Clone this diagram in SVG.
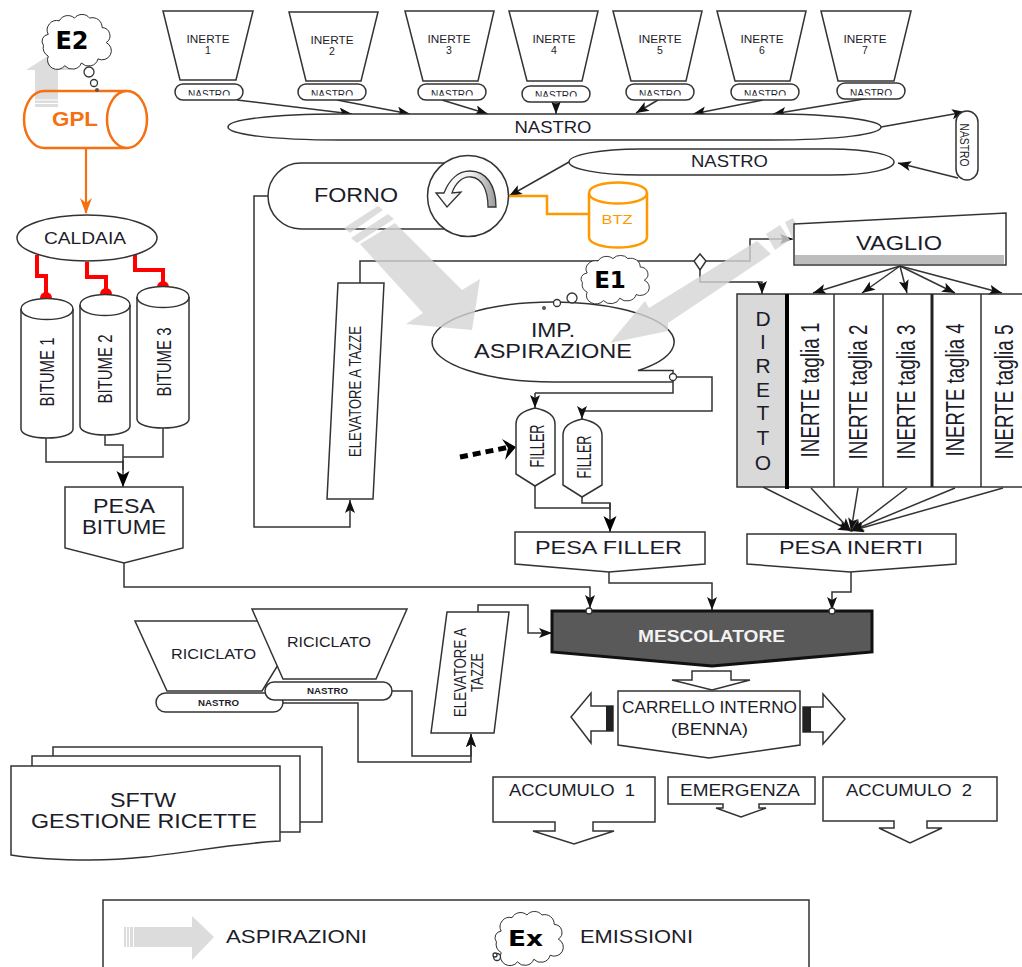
<svg xmlns="http://www.w3.org/2000/svg" width="1022" height="967" viewBox="0 0 1022 967">
<style>
text{font-family:"Liberation Sans",Arial,sans-serif;fill:#1c1c2a;text-anchor:middle}
.s{fill:#fff;stroke:#333;stroke-width:1.5}
.n{fill:none;stroke:#333;stroke-width:1.5}
.c{fill:none;stroke:#333;stroke-width:1.5}
.a{marker-end:url(#ah)}
.b{marker-end:url(#ab)}
.r{fill:none;stroke:#f00;stroke-width:4}
.g{fill:#d4d4d4;fill-opacity:.8;stroke:none}
.o{fill:#fff;stroke:#f57010;stroke-width:2.5}
.y{fill:#fff;stroke:#f90;stroke-width:2.5}
.bub{fill:#fff;stroke:#333;stroke-width:1.3}
.cl{fill:#fff;stroke:#222;stroke-width:1.4;vector-effect:non-scaling-stroke}
.em{font-family:"DejaVu Sans",sans-serif;font-weight:bold;fill:#000}
.t10{font-size:10.5px}
.np{font-size:10.5px;clip-path:url(#nclip)}
.np4{font-size:10.5px;clip-path:url(#nclip4)}
</style>
<defs>
<marker id="ah" markerUnits="userSpaceOnUse" markerWidth="14" markerHeight="12" refX="13" refY="5" orient="auto"><path d="M0,0 L13,5 L0,10 L3,5 Z" fill="#111"/></marker>
<marker id="ab" markerUnits="userSpaceOnUse" markerWidth="17" markerHeight="14" refX="16" refY="6.5" orient="auto"><path d="M0,0 L16,6.5 L0,13 L4,6.5 Z" fill="#000"/></marker>
<clipPath id="nclip"><rect x="0" y="0" width="1022" height="95.5"/></clipPath>
<clipPath id="nclip4"><rect x="0" y="0" width="1022" height="96.5"/></clipPath>
<linearGradient id="gr" x1="0" x2="1" y1="0" y2="0"><stop offset="0" stop-color="#fff"/><stop offset=".6" stop-color="#eee"/><stop offset="1" stop-color="#999"/></linearGradient>
<path id="cloud" d="M12 30A14 14 0 0 1 28 10A14 14 0 0 1 50 6A14 14 0 0 1 72 6A14 14 0 0 1 90 20A12 12 0 0 1 96 42A13 13 0 0 1 84 66A14 14 0 0 1 60 72A14 14 0 0 1 36 76A14 14 0 0 1 12 62A14 14 0 0 1 5 46A10 10 0 0 1 12 30Z"/>
</defs>
<rect width="1022" height="967" fill="#fff"/>

<g id="connectors">
<path class="a c" d="M237 100L352 114"/>
<path class="a c" d="M337 100L410 114"/>
<path class="a c" d="M442 100L488 114"/>
<path class="a c" d="M556 101V114"/>
<path class="a c" d="M658 100L636 113"/>
<path class="a c" d="M763 100L693 114"/>
<path class="a c" d="M870 98L773 114"/>
<path class="a c" d="M881 127L965 112"/>
<path class="a c" d="M958 178L898 163"/>
<path class="a c" d="M569 162L509 196"/>
<path d="M506 196H547V214H589" fill="none" stroke="#f90" stroke-width="2.5"/>
<circle cx="506" cy="196" r="3" fill="#f90"/>
<path class="c" d="M360 283V261H694"/>
<path class="a c" d="M706 261H750V239H793"/>
<path class="a c" d="M700 270V282H762V294"/>
<path class="a c" d="M900 266L813 293"/>
<path class="a c" d="M900 266L862 293"/>
<path class="a c" d="M900 266L907 293"/>
<path class="a c" d="M900 266L955 293"/>
<path class="a c" d="M900 266L1002 293"/>
<path class="a c" d="M763 487L851 531" stroke-width="2.2"/>
<path class="a c" d="M811 488L851 531"/>
<path class="a c" d="M858 488L851 531"/>
<path class="a c" d="M907 488L851 531"/>
<path class="a c" d="M955 488L851 531"/>
<path class="a c" d="M1003 488L851 531"/>
<path class="a c" d="M851 572V592H832V610"/>
<path class="a c" d="M609 572V583H712V610"/>
<path class="a c" d="M124 563V587H590V608"/>
<path class="a c" d="M268 196H254V527H350V500"/>
<path class="a c" d="M535 393V408"/>
<path class="c" d="M677 377H712V411H582"/>
<path class="a c" d="M582 411V419"/>
<path class="c" d="M535 486V508H610"/>
<path class="c" d="M582 497V503H610V510"/>
<path class="b c" d="M610 503V532"/>
<path d="M460 457L510 447" fill="none" stroke="#000" stroke-width="5" stroke-dasharray="8 5"/>
<path d="M502 439L516 447L505 460L508 448Z" fill="#000"/>
<path class="c" d="M46 437V462H123"/>
<path class="c" d="M105 434V445H123V470"/>
<path class="c" d="M163 427V457H123"/>
<path class="b c" d="M123 460V487"/>
<path class="a c" d="M283 703H358V762H471V734"/>
<path class="a c" d="M392 691H412V756H471V734"/>
<path class="a c" d="M478 612V605H528V633H552"/>
<path d="M86 148V213" fill="none" stroke="#f57010" stroke-width="2.2"/>
<path d="M80 198L86 214L92 198L86 203Z" fill="#f57010"/>
<path class="r" d="M37 255V276H46V298"/>
<path class="r" d="M87 262V277H106V294"/>
<path class="r" d="M135 255V270H163V287"/>
<circle cx="46" cy="298" r="6" fill="#f00"/>
<circle cx="106" cy="294" r="6" fill="#f00"/>
<circle cx="163" cy="287" r="6" fill="#f00"/>
</g>

<g id="inerte1"><path class="s" d="M163 11H253L236 80H180Z"/><text class="t10" x="208" y="43" textLength="43" lengthAdjust="spacingAndGlyphs">INERTE</text><text class="t10" x="208" y="54">1</text></g>
<g id="inerte2"><path class="s" d="M289 12H378L361 81H306Z"/><text class="t10" x="332" y="44" textLength="43" lengthAdjust="spacingAndGlyphs">INERTE</text><text class="t10" x="332" y="55">2</text></g>
<g id="inerte3"><path class="s" d="M405 11H494L478 81H423Z"/><text class="t10" x="449" y="43" textLength="43" lengthAdjust="spacingAndGlyphs">INERTE</text><text class="t10" x="449" y="54">3</text></g>
<g id="inerte4"><path class="s" d="M509 11H598L582 81H527Z"/><text class="t10" x="554" y="43" textLength="43" lengthAdjust="spacingAndGlyphs">INERTE</text><text class="t10" x="554" y="54">4</text></g>
<g id="inerte5"><path class="s" d="M613 11H702L686 81H631Z"/><text class="t10" x="660" y="43" textLength="43" lengthAdjust="spacingAndGlyphs">INERTE</text><text class="t10" x="660" y="54">5</text></g>
<g id="inerte6"><path class="s" d="M717 11H806L790 81H735Z"/><text class="t10" x="762" y="43" textLength="43" lengthAdjust="spacingAndGlyphs">INERTE</text><text class="t10" x="762" y="54">6</text></g>
<g id="inerte7"><path class="s" d="M821 11H911L894 81H838Z"/><text class="t10" x="865" y="43" textLength="43" lengthAdjust="spacingAndGlyphs">INERTE</text><text class="t10" x="865" y="54">7</text></g>

<g id="nastro-pills">
<rect class="s" x="175" y="84" width="68" height="16" rx="8"/><text class="np" x="209" y="97.5" textLength="42" lengthAdjust="spacingAndGlyphs">NASTRO</text>
<rect class="s" x="298" y="84" width="68" height="16" rx="8"/><text class="np" x="332" y="97.5" textLength="42" lengthAdjust="spacingAndGlyphs">NASTRO</text>
<rect class="s" x="418" y="84" width="68" height="16" rx="8"/><text class="np" x="452" y="97.5" textLength="42" lengthAdjust="spacingAndGlyphs">NASTRO</text>
<rect class="s" x="522" y="86" width="68" height="16" rx="8"/><text class="np4" x="556" y="98.5" textLength="42" lengthAdjust="spacingAndGlyphs">NASTRO</text>
<rect class="s" x="626" y="84" width="68" height="16" rx="8"/><text class="np" x="660" y="97.5" textLength="42" lengthAdjust="spacingAndGlyphs">NASTRO</text>
<rect class="s" x="731" y="84" width="68" height="16" rx="8"/><text class="np" x="765" y="97.5" textLength="42" lengthAdjust="spacingAndGlyphs">NASTRO</text>
<rect class="s" x="837" y="83" width="68" height="16" rx="8"/><text class="np" x="871" y="96.5" textLength="42" lengthAdjust="spacingAndGlyphs">NASTRO</text>
</g>

<g id="nastro-main"><path class="s" d="M340 114H770C840 114 881 121 881 127C881 134 840 140 770 140H340C270 140 228 134 228 127C228 120 270 114 340 114Z"/><text x="553" y="133" font-size="16.5" textLength="77" lengthAdjust="spacingAndGlyphs">NASTRO</text></g>
<g id="nastro-side"><rect class="s" x="956" y="111" width="22" height="69" rx="11"/><text transform="translate(960 145) rotate(90)" font-size="12.5" textLength="43" lengthAdjust="spacingAndGlyphs">NASTRO</text></g>
<g id="nastro-return"><path class="s" d="M660 149H830C870 149 894 155 894 162C894 169 870 175 830 175H640C600 175 569 169 569 162C569 155 600 149 640 149Z"/><text x="729.5" y="167" font-size="17" textLength="77" lengthAdjust="spacingAndGlyphs">NASTRO</text></g>

<g id="forno">
<path class="s" d="M301 163H468A40 33 0 0 1 468 229H301A33 33 0 0 1 301 163Z"/>
<circle class="s" cx="468" cy="196" r="40.5"/>
<path d="M488 207H496C496 185 486 171 470 171C458 171 449 180 444 193L436 193L447 207L461 192L452 193C455 184 462 176 471 177C482 178 488 190 488 207Z" fill="url(#gr)" stroke="#333" stroke-width="1.3"/>
<text x="356" y="202" font-size="20" textLength="84" lengthAdjust="spacingAndGlyphs">FORNO</text>
</g>
<g id="btz"><path class="y" d="M589 193C589 179 647 179 647 193V237C647 251 589 251 589 237Z"/><path class="y" style="fill:none" d="M589 193C589 207 647 207 647 193"/><text x="617" y="224" font-size="12.5" style="fill:#f90" textLength="31" lengthAdjust="spacingAndGlyphs">BTZ</text></g>

<g id="aspirazione">
<ellipse cx="553" cy="342" rx="121" ry="40" fill="#fff"/>
<path class="n" d="M553 382A121 40 0 0 1 553 302A121 40 0 0 1 638 370.500H673V377M673 381V393H535M553 382H673"/>
<text x="553" y="337" font-size="19.5" textLength="44" lengthAdjust="spacingAndGlyphs">IMP.</text>
<text x="553" y="358" font-size="19.5" textLength="158" lengthAdjust="spacingAndGlyphs">ASPIRAZIONE</text>
</g>
<circle cx="673" cy="377" r="3.5" class="bub"/>

<g id="aspirazioni-arrows">
<path class="g" d="M344 228L378 206L383 210L350 233Z"/>
<path class="g" d="M351 238L388 214L394 219L357 243Z"/>
<path class="g" d="M360 244L395 223L462 290L480 279L472 330L406 324L423 313Z"/>
<path class="g" d="M610 343L645 301L649 308L757 241L771 254L668 323L668 331Z"/>
<path class="g" d="M766 234L780 225L790 240L775 250Z"/>
<path class="g" d="M785 222L793 218L803 235L793 240Z"/>
</g>

<g id="e1"><use href="#cloud" class="cl" transform="translate(579 255) scale(.68 .6)"/><circle class="bub" cx="572" cy="298" r="5"/><circle class="bub" cx="557" cy="303" r="3.5"/><circle cx="544" cy="308" r="2" fill="#555"/><text class="em" x="610" y="288" font-size="23">E1</text></g>

<g id="vaglio"><path class="s" d="M794 224L1006 213V265H794Z"/><rect x="795" y="255" width="209" height="9" fill="#bdbdbd"/><text x="899" y="250" font-size="20" textLength="86" lengthAdjust="spacingAndGlyphs">VAGLIO</text></g>
<g id="diamond"><path class="s" d="M700 254L706 261L700 270L694 261Z"/></g>

<g id="bins">
<rect x="737" y="294" width="50" height="193" fill="#d9d9d9"/>
<path class="n" d="M1022 294H737V487H1022"/>
<path d="M787 294V489" stroke="#000" stroke-width="4"/>
<path class="n" d="M834 294V487M883 294V487M981 294V487"/>
<path d="M932 294V487" stroke="#222" stroke-width="3"/>
<g font-size="21">
<text x="763" y="326">D</text><text x="763" y="349">I</text><text x="763" y="373">R</text><text x="763" y="397">E</text><text x="763" y="420">T</text><text x="763" y="445">T</text><text x="763" y="470">O</text>
</g>
<g font-size="25">
<text transform="translate(819 390) rotate(-90)" textLength="135" lengthAdjust="spacingAndGlyphs">INERTE taglia 1</text>
<text transform="translate(867 392) rotate(-90)" textLength="135" lengthAdjust="spacingAndGlyphs">INERTE taglia 2</text>
<text transform="translate(915 392) rotate(-90)" textLength="135" lengthAdjust="spacingAndGlyphs">INERTE taglia 3</text>
<text transform="translate(964 390) rotate(-90)" textLength="133" lengthAdjust="spacingAndGlyphs">INERTE taglia 4</text>
<text transform="translate(1013 392) rotate(-90)" textLength="135" lengthAdjust="spacingAndGlyphs">INERTE taglia 5</text>
</g>
</g>

<g id="pesa-inerti"><path class="s" d="M747 534H956V564L850 572L747 564Z"/><text x="851" y="554" font-size="19" textLength="144" lengthAdjust="spacingAndGlyphs">PESA INERTI</text></g>
<g id="pesa-filler"><path class="s" d="M515 532H705V564L609 572L515 564Z"/><text x="608.5" y="554" font-size="19" textLength="147" lengthAdjust="spacingAndGlyphs">PESA FILLER</text></g>

<g id="filler1"><path class="s" d="M516 424C516 414 526 410 535 408C545 410 555 414 555 424V474L535 486L516 474Z"/><text transform="translate(544 446) rotate(-90)" font-size="20" textLength="43" lengthAdjust="spacingAndGlyphs">FILLER</text></g>
<g id="filler2"><path class="s" d="M563 435C563 425 573 421 582 419C592 421 602 425 602 435V485L582 497L563 485Z"/><text transform="translate(591 457) rotate(-90)" font-size="20" textLength="43" lengthAdjust="spacingAndGlyphs">FILLER</text></g>

<g id="elevatore1"><path class="s" d="M338 283H384L373 499H327Z"/><text transform="translate(361 391.500) rotate(-90)" font-size="17" textLength="131" lengthAdjust="spacingAndGlyphs">ELEVATORE A TAZZE</text></g>

<g id="gpl-arrow"><path class="g" d="M48 56L71 70H58V107H35V70H26Z"/><path d="M35 100H58M35 103.500H58" stroke="#fff" stroke-width="1"/></g>
<g id="gpl"><path class="o" style="fill:none" d="M127 91H44A20 28.500 0 0 0 44 148H127"/><ellipse class="o" style="fill:#fff" cx="127" cy="119.500" rx="20" ry="28.500"/><text x="75" y="126" font-size="21" font-weight="bold" style="fill:#f57010" textLength="46" lengthAdjust="spacingAndGlyphs">GPL</text></g>
<g id="e2"><use href="#cloud" class="cl" transform="translate(40 14) scale(.69 .68)"/><circle class="bub" cx="89" cy="72" r="5"/><circle class="bub" cx="94" cy="83" r="3.500"/><circle cx="97" cy="90" r="2" fill="#555"/><text class="em" x="72" y="49" font-size="24">E2</text></g>
<g id="caldaia"><ellipse class="s" cx="87" cy="238" rx="70" ry="23"/><text x="85" y="244" font-size="16" textLength="82" lengthAdjust="spacingAndGlyphs">CALDAIA</text></g>

<g id="bitume1"><path class="s" d="M21 309C21 295 73 295 73 309V429C73 441 21 441 21 429Z"/><path class="n" d="M21 309C21 323 73 323 73 309"/><text transform="translate(54 372) rotate(-90)" font-size="21" textLength="69" lengthAdjust="spacingAndGlyphs">BITUME 1</text></g>
<g id="bitume2"><path class="s" d="M80 305C80 291 130 291 130 305V426C130 438 80 438 80 426Z"/><path class="n" d="M80 305C80 319 130 319 130 305"/><text transform="translate(112 369) rotate(-90)" font-size="21" textLength="69" lengthAdjust="spacingAndGlyphs">BITUME 2</text></g>
<g id="bitume3"><path class="s" d="M137 297C137 283 189 283 189 297V419C189 431 137 431 137 419Z"/><path class="n" d="M137 297C137 311 189 311 189 297"/><text transform="translate(171 362) rotate(-90)" font-size="21" textLength="69" lengthAdjust="spacingAndGlyphs">BITUME 3</text></g>
<g id="pesa-bitume"><path class="s" d="M65 487H183V548L124 563L65 548Z"/><text x="124" y="513" font-size="19.5" textLength="62" lengthAdjust="spacingAndGlyphs">PESA</text><text x="124" y="534" font-size="19.5" textLength="84" lengthAdjust="spacingAndGlyphs">BITUME</text></g>

<g id="riciclato1"><path class="s" d="M135 621H305L262 691H167Z"/><text x="213.500" y="659" font-size="15.500" textLength="85" lengthAdjust="spacingAndGlyphs">RICICLATO</text></g>
<g id="riciclato2"><path class="s" d="M252 609H407L376 679H283Z"/><text x="329" y="647" font-size="15.500" textLength="84" lengthAdjust="spacingAndGlyphs">RICICLATO</text></g>
<g id="nastro-r1"><rect class="s" x="156" y="693" width="127" height="19" rx="9.500"/><text x="218.500" y="706" font-size="9.500" font-weight="bold" textLength="41" lengthAdjust="spacingAndGlyphs">NASTRO</text></g>
<g id="nastro-r2"><rect class="s" x="265" y="682" width="127" height="18" rx="9"/><text x="327.500" y="694" font-size="9.500" font-weight="bold" textLength="41" lengthAdjust="spacingAndGlyphs">NASTRO</text></g>
<g id="elevatore2"><path class="s" d="M447 612H509L494 733H431Z"/><text transform="translate(466 672.500) rotate(-90)" font-size="16" textLength="89" lengthAdjust="spacingAndGlyphs">ELEVATORE A</text><text transform="translate(483 672.500) rotate(-90)" font-size="16" textLength="39" lengthAdjust="spacingAndGlyphs">TAZZE</text></g>

<g id="mescolatore"><path d="M552 611H872V652L712 666L552 652Z" fill="#595959" stroke="#111" stroke-width="3"/><text x="711.500" y="642" font-size="16" font-weight="bold" style="fill:#f2f2f2" textLength="147" lengthAdjust="spacingAndGlyphs">MESCOLATORE</text></g>
<circle class="bub" cx="589" cy="611" r="3"/><circle class="bub" cx="832" cy="611" r="3"/>

<g id="arrow-down"><path class="s" d="M692 671H731V680H750L712 690L672 680H692Z"/></g>
<g id="carrello"><path class="s" d="M618 691H800V745L709 758L618 745Z"/><text x="709.500" y="713" font-size="16" textLength="175" lengthAdjust="spacingAndGlyphs">CARRELLO INTERNO</text><text x="709.500" y="735" font-size="16" textLength="77" lengthAdjust="spacingAndGlyphs">(BENNA)</text></g>
<g id="arrow-left"><path class="s" d="M613 706H591V693L571 717L591 743V731H613Z"/><rect x="606" y="706" width="7" height="25" fill="#222"/></g>
<g id="arrow-right"><path class="s" d="M803 707H823V694L845 719L823 744V732H803Z"/><rect x="803" y="707" width="8" height="25" fill="#222"/></g>

<g id="accumulo1"><path class="s" d="M493 777H655V822H593V831H614L574 844L533 831H555V822H493Z"/><text x="572" y="796" font-size="16" textLength="126" lengthAdjust="spacingAndGlyphs" xml:space="preserve">ACCUMULO  1</text></g>
<g id="emergenza"><path class="s" d="M668 777H815V804H759V808H766L741 817L716 808H723V804H668Z"/><text x="740" y="796" font-size="16" textLength="120" lengthAdjust="spacingAndGlyphs">EMERGENZA</text></g>
<g id="accumulo2"><path class="s" d="M823 777H997V821H927V828H942L910 843L879 828H894V821H823Z"/><text x="909" y="796" font-size="16" textLength="126" lengthAdjust="spacingAndGlyphs" xml:space="preserve">ACCUMULO  2</text></g>

<g id="sftw">
<path class="s" d="M53 756V747H322V822H300"/>
<path class="s" d="M32 766V756H300V832H280"/>
<path class="s" d="M11 766H280V841C210 845 160 860 90 860C50 860 30 858 11 855Z"/>
<text x="143" y="807" font-size="20" textLength="66" lengthAdjust="spacingAndGlyphs">SFTW</text>
<text x="144" y="828" font-size="20" textLength="226" lengthAdjust="spacingAndGlyphs">GESTIONE RICETTE</text>
</g>

<g id="legend">
<rect x="103" y="900" width="706" height="80" fill="#fff" stroke="#333" stroke-width="1.5"/>
<path d="M134 927H192V916L214 937L192 960V947H134Z" fill="#dcdcdc"/>
<rect x="124" y="927" width="2" height="20" fill="#dcdcdc"/><rect x="127" y="927" width="2" height="20" fill="#dcdcdc"/><rect x="130" y="927" width="3" height="20" fill="#dcdcdc"/>
<text x="296.500" y="943" font-size="18.500" textLength="141" lengthAdjust="spacingAndGlyphs">ASPIRAZIONI</text>
<use href="#cloud" class="cl" transform="translate(493 911) scale(.68 .67)"/>
<circle class="bub" cx="497" cy="957" r="3.500"/><circle class="bub" cx="495" cy="955" r="2"/>
<text class="em" x="525.500" y="946" font-size="22" textLength="35" lengthAdjust="spacingAndGlyphs">Ex</text>
<text x="636.500" y="943" font-size="18.500" textLength="113" lengthAdjust="spacingAndGlyphs">EMISSIONI</text>
</g>
</svg>
